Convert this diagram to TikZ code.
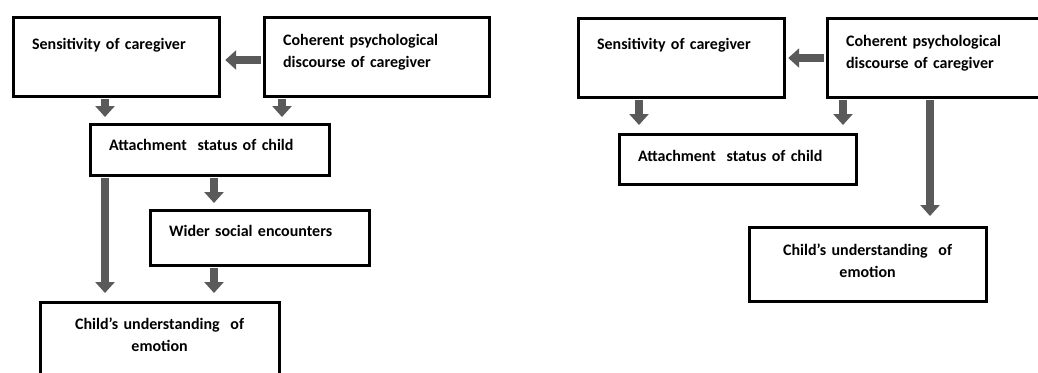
\documentclass[tikz,border=0pt]{standalone}
\usepackage{fontspec}
\setmainfont{Carlito}
\usetikzlibrary{arrows.meta}
\definecolor{arrowgray}{RGB}{90,90,90}

\begin{document}
\begin{tikzpicture}[x=1pt,y=-1pt,
  box/.style={draw, line width=3.2pt, anchor=north west, inner xsep=19pt, inner ysep=0pt,
    align=left, font=\fontsize{16}{22}\selectfont\bfseries},
  flow/.style={draw=arrowgray, line width=8pt, shorten <=1.6pt,
    -{Triangle[width=19pt,length=11pt]}}]

\useasboundingbox (0,0) rectangle (1038,372);
\fill[white] (0,0) rectangle (1038,372);
\clip (0,0) rectangle (1038,372);

%left model
\node[box, text width=168pt, text height=32.5pt, text depth=46.5pt] (sensL) at (11.5,15.5) {Sensitivity of caregiver};
\node[box, text width=187pt, text height=28.5pt, text depth=50.5pt] (cohL) at (262.5,15.5) {Coherent psychological\\discourse of caregiver};
\node[box, text width=201pt, text height=26.5pt, text depth=24.5pt] (attL) at (88.5,122.5) {Attachment\ \ status of child};
\node[box, text width=181pt, text height=26.5pt, text depth=28.5pt] (widerL) at (148.5,208.5) {Wider social encounters};
\node[box, align=center, text width=201pt, text height=27.5pt, text depth=52.5pt] (childL) at (38.5,300.5) {Child’s understanding\ \ of\\emotion};

\draw[flow, shorten >=4.5pt] (cohL.west |- 0,60) -- (sensL.east |- 0,60);
\draw[flow, shorten >=5.5pt] (105,0 |- sensL.south) -- (105,0 |- attL.north);
\draw[flow, shorten >=5.5pt] (282,0 |- cohL.south) -- (282,0 |- attL.north);
\draw[flow, shorten >=7.5pt] (105,0 |- attL.south) -- (105,0 |- childL.north);
\draw[flow, shorten >=5.5pt] (214,0 |- attL.south) -- (214,0 |- widerL.north);
\draw[flow, shorten >=7.5pt] (214,0 |- widerL.south) -- (214,0 |- childL.north);

%right model
\node[box, text width=168pt, text height=31.5pt, text depth=47.5pt] (sensR) at (576.5,16.5) {Sensitivity of caregiver};
\node[box, text width=187pt, text height=28.5pt, text depth=50.5pt] (cohR) at (825.5,16.5) {Coherent psychological\\discourse of caregiver};
\node[box, text width=199pt, text height=27.5pt, text depth=22.5pt] (attR) at (617.5,132.5) {Attachment\ \ status of child};
\node[box, align=center, text width=199pt, text height=28.5pt, text depth=45.5pt] (childR) at (747.5,225.5) {Child’s understanding\ \ of\\emotion};

\draw[flow, shorten >=2.5pt] (cohR.west |- 0,58) -- (sensR.east |- 0,58);
\draw[flow, shorten >=7.5pt] (639,0 |- sensR.south) -- (639,0 |- attR.north);
\draw[flow, shorten >=7.5pt] (843,0 |- cohR.south) -- (843,0 |- attR.north);
\draw[flow, shorten >=9.5pt] (930,0 |- cohR.south) -- (930,0 |- childR.north);

\end{tikzpicture}
\end{document}
